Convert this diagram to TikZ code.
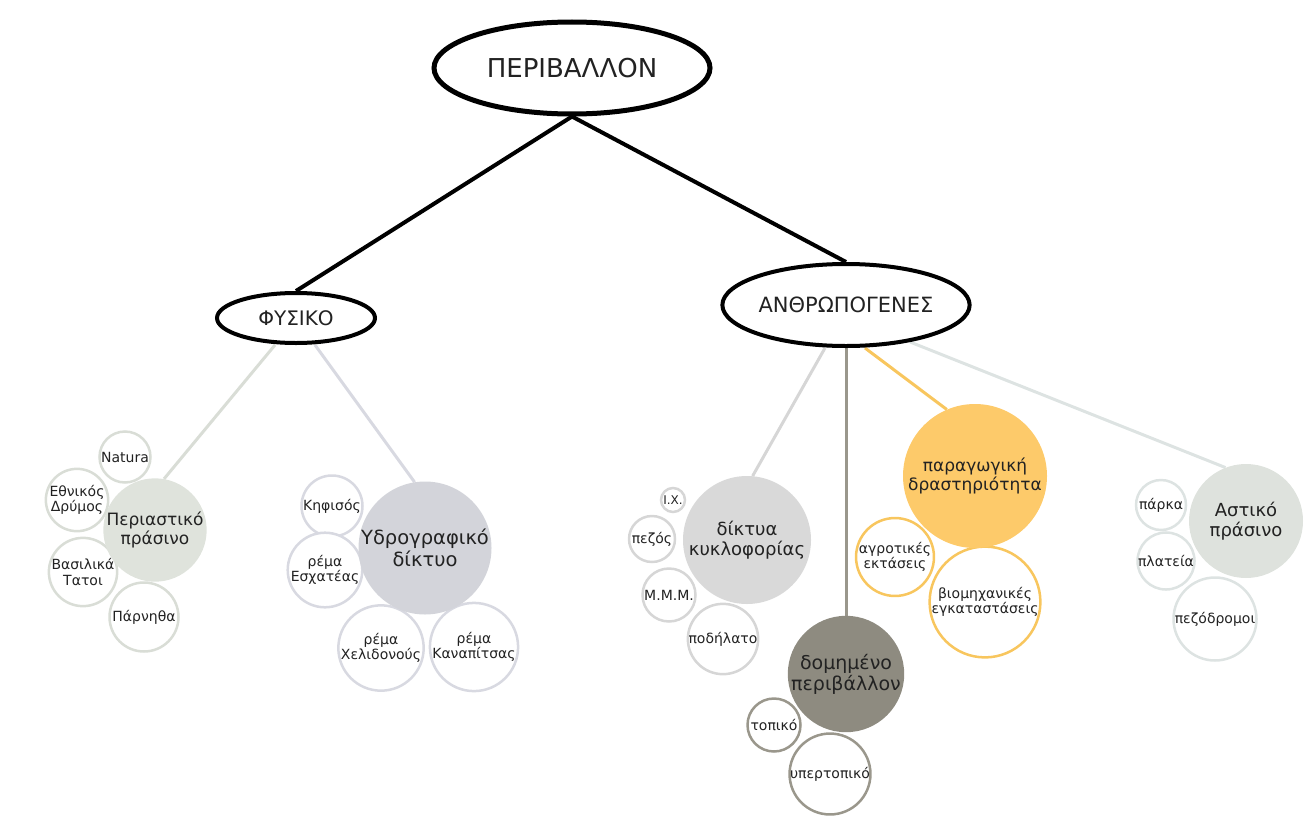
\documentclass[tikz,border=0pt]{standalone}
\usepackage{fontspec}
\setmainfont{DejaVu Sans}
\usepackage{xcolor}
\usetikzlibrary{shapes.geometric,backgrounds}

\definecolor{inkgray}{HTML}{222222}
\definecolor{sageFill}{HTML}{DFE3DC}
\definecolor{sageLine}{HTML}{D9DDD6}
\definecolor{lilacFill}{HTML}{D3D4DA}
\definecolor{lilacLine}{HTML}{D8D9E1}
\definecolor{greyFill}{HTML}{D9D9D9}
\definecolor{greyLine}{HTML}{D6D6D6}
\definecolor{stoneFill}{HTML}{8E8B80}
\definecolor{stoneLine}{HTML}{9A978C}
\definecolor{honeyFill}{HTML}{FDCA6A}
\definecolor{honeyLine}{HTML}{F8C65E}
\definecolor{mintFill}{HTML}{DEE2DD}
\definecolor{mintLine}{HTML}{DDE3E2}

\begin{document}
\begin{tikzpicture}[x=1pt, y=-1pt,
    top/.style = {shape=ellipse, draw, line width=5pt, inner sep=0pt, text=inkgray},
    hub/.style = {shape=circle, inner sep=0pt, align=center, text=inkgray,
      font=\fontsize{17}{19}\selectfont},
    leaf/.style = {shape=circle, draw, line width=2.5pt, fill=white, inner sep=0pt,
      align=center, text=inkgray, font=\fontsize{14}{15.5}\selectfont},
    link/.style = {line width=3pt}]
  \useasboundingbox (0,0) rectangle (1313,816);

  % top levels
  \node[top, minimum width=276, minimum height=92, font=\fontsize{26}{30}\selectfont]
    (env) at (572,68) {ΠΕΡΙΒΑΛΛΟΝ};
  \node[top, line width=4pt, minimum width=158, minimum height=50, font=\fontsize{20}{22}\selectfont]
    (natural) at (296,318) {ΦΥΣΙΚΟ};
  \node[top, line width=4pt, minimum width=228, minimum height=82, font=\fontsize{21}{24}\selectfont]
    (human) at (846,305) {ΑΝΘΡΩΠΟΓΕΝΕΣ};

  % leaves
  \begin{scope}[leaf/.append style={draw=sageLine}]
    \node[leaf, minimum size=51] (natura) at (125,457) {Natura};
    \node[leaf, minimum size=61] (forest) at (77,500) {Εθνικός\\Δρύμος};
    \node[leaf, minimum size=61] (tatoi) at (83,572) {Βασιλικά\\Τατοι};
    \node[leaf, minimum size=69] (parnitha) at (144,617) {Πάρνηθα};
  \end{scope}
  \begin{scope}[leaf/.append style={draw=lilacLine}]
    \node[leaf, minimum size=61] (kifisos) at (332,506) {Κηφισός};
    \node[leaf, minimum size=72] (eschatea) at (325,570) {ρέμα\\Εσχατέας};
    \node[leaf, minimum size=78] (chelidonou) at (381,648) {ρέμα\\Χελιδονούς};
    \node[leaf, minimum size=85] (kanapitsa) at (474,647) {ρέμα\\Καναπίτσας};
  \end{scope}
  \begin{scope}[leaf/.append style={draw=greyLine}]
    \node[leaf, minimum size=24, font=\fontsize{12}{13}\selectfont] (car) at (673,500) {Ι.Χ.};
    \node[leaf, minimum size=46] (walk) at (652,539) {πεζός};
    \node[leaf, minimum size=53] (transit) at (669,595) {Μ.Μ.Μ.};
    \node[leaf, minimum size=70] (bike) at (723,639) {ποδήλατο};
  \end{scope}
  \begin{scope}[leaf/.append style={draw=stoneLine}]
    \node[leaf, minimum size=53] (local) at (774,725) {τοπικό};
    \node[leaf, minimum size=79] (regional) at (830,774) {υπερτοπικό};
  \end{scope}
  \begin{scope}[leaf/.append style={draw=honeyLine}]
    \node[leaf, minimum size=73] (farmland) at (895,557) {αγροτικές\\εκτάσεις};
    \node[leaf, minimum size=106] (industry) at (985,602) {βιομηχανικές\\εγκαταστάσεις};
  \end{scope}
  \begin{scope}[leaf/.append style={draw=mintLine}]
    \node[leaf, minimum size=50] (parks) at (1161,505) {πάρκα};
    \node[leaf, minimum size=53] (squares) at (1166,561) {πλατεία};
    \node[leaf, minimum size=83] (pedestrian) at (1215,619) {πεζόδρομοι};
  \end{scope}

  % hubs
  \node[hub, fill=sageFill, minimum size=100] (suburban) at (155,530) {Περιαστικό\\πράσινο};
  \node[hub, fill=lilacFill, minimum size=126, font=\fontsize{19.5}{21.5}\selectfont] (hydro) at (425,548) {Υδρογραφικό\\δίκτυο};
  \node[hub, fill=greyFill, minimum size=128, font=\fontsize{18}{20}\selectfont] (traffic) at (747,540) {δίκτυα\\κυκλοφορίας};
  \node[hub, fill=stoneFill, minimum size=112, font=\fontsize{19}{21}\selectfont] (built) at (846,674) {δομημένο\\περιβάλλον};
  \node[hub, fill=honeyFill, minimum size=144] (production) at (975,476) {παραγωγική\\δραστηριότητα};
  \node[hub, fill=mintFill, minimum size=114, font=\fontsize{18}{20}\selectfont] (urban) at (1246,521) {Αστικό\\πράσινο};

  % connectors
  \begin{scope}[on background layer]
    \draw[link, line width=4pt] (env.south) -- (natural.north);
    \draw[link, line width=4pt] (env.south) -- (human.north);
    \draw[link, draw=sageLine] ([xshift=-21pt]natural.south) -- (suburban.80);
    \draw[link, draw=lilacLine] ([xshift=19pt]natural.south) -- (hydro.99);
    \draw[link, draw=greyLine] ([xshift=-21pt]human.south) -- (traffic.85);
    \draw[link, draw=stoneLine] (human.south) -- (built.north);
    \draw[link, draw=honeyLine] ([xshift=19pt]human.south) -- (production.113);
    \draw[link, draw=mintLine] (human.-30) -- (urban.111);
  \end{scope}
\end{tikzpicture}
\end{document}
